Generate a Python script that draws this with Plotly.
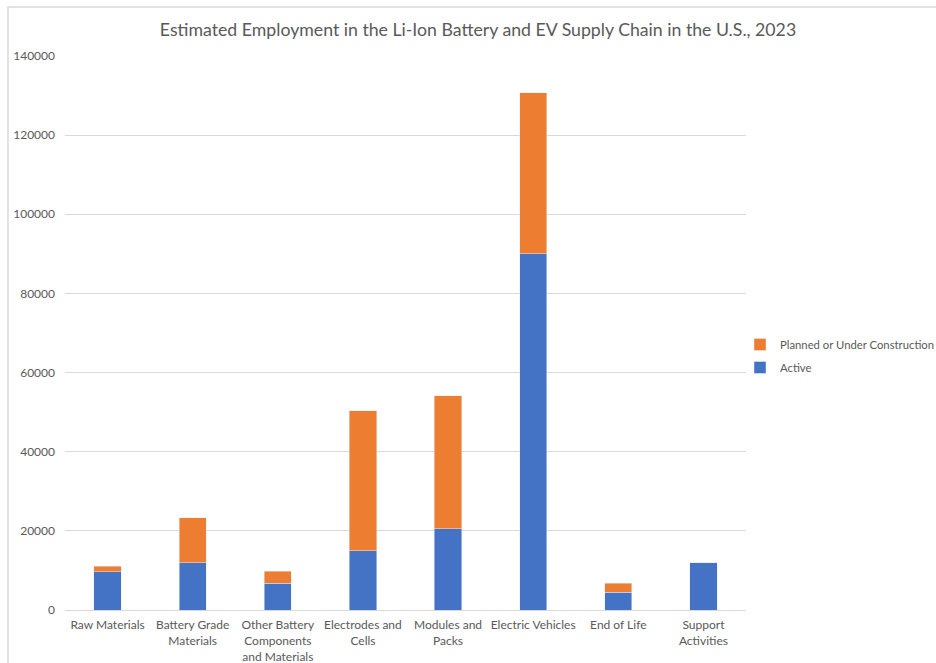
import plotly.graph_objects as go

categories = ["Raw Materials", "Battery Grade<br>Materials", "Other Battery<br>Components<br>and Materials",
              "Electrodes and<br>Cells", "Modules and<br>Packs", "Electric Vehicles", "End of Life",
              "Support<br>Activities"]
active = [9700, 12000, 6800, 15000, 20500, 90000, 4500, 11900]
planned = [1400, 11300, 3000, 35300, 33600, 40700, 2300, 0]
y_ticks = [0, 20000, 40000, 60000, 80000, 100000, 120000, 140000]

FONT = "Lato"
GREY = "#595959"

fig = go.Figure()
fig.add_trace(go.Bar(x=categories, y=active, name="Active", legendgroup="a", legendrank=2,
                     marker=dict(color="#4472C4")))
fig.add_trace(go.Bar(x=categories, y=planned, name="Planned or Under Construction", legendgroup="p",
                     legendrank=1, marker=dict(color="#ED7D31")))

W, H = 936, 663
L, R, T, B = 65, 190, 56, 53
pw, ph = W - L - R, H - T - B

def px(x):
    return (x - L) / pw

def py(y):
    return (H - B - y) / ph

fig.update_layout(
    width=W, height=H,
    margin=dict(l=L, r=R, t=T, b=B, autoexpand=False),
    barmode="stack",
    bargap=0.68,
    paper_bgcolor="white",
    plot_bgcolor="white",
    font=dict(family=FONT, color=GREY, size=12),
    title=dict(text="Estimated Employment in the Li-Ion Battery and EV Supply Chain in the U.S., 2023",
               x=478 / W, xanchor="center", y=1 - 30 / H, yanchor="middle",
               font=dict(family=FONT, size=17.7, color=GREY)),
    legend=dict(x=px(740), xanchor="left", y=py(356), yanchor="middle",
                traceorder="grouped", font=dict(family=FONT, size=11.3, color=GREY),
                itemwidth=30, tracegroupgap=4, bgcolor="rgba(0,0,0,0)"),
    xaxis=dict(showline=True, linecolor="#d9d9d9", linewidth=1, ticks="", showgrid=False,
               ticklabelstandoff=4,
               tickfont=dict(family=FONT, size=12, color=GREY)),
    yaxis=dict(range=[0, 140000], tickvals=y_ticks, ticktext=[str(v) for v in y_ticks],
               showgrid=True, gridcolor="#d9d9d9", gridwidth=1, zeroline=False,
               showline=False, ticks="", ticklabelstandoff=9,
               tickfont=dict(family=FONT, size=12, color=GREY)),
    shapes=[dict(type="rect", xref="paper", yref="paper",
                 x0=px(8), x1=px(W + 20), y0=py(H + 20), y1=py(7),
                 line=dict(color="#d9d9d9", width=1.5), fillcolor="rgba(0,0,0,0)", layer="below")],
)

fig.write_html("out.html")
